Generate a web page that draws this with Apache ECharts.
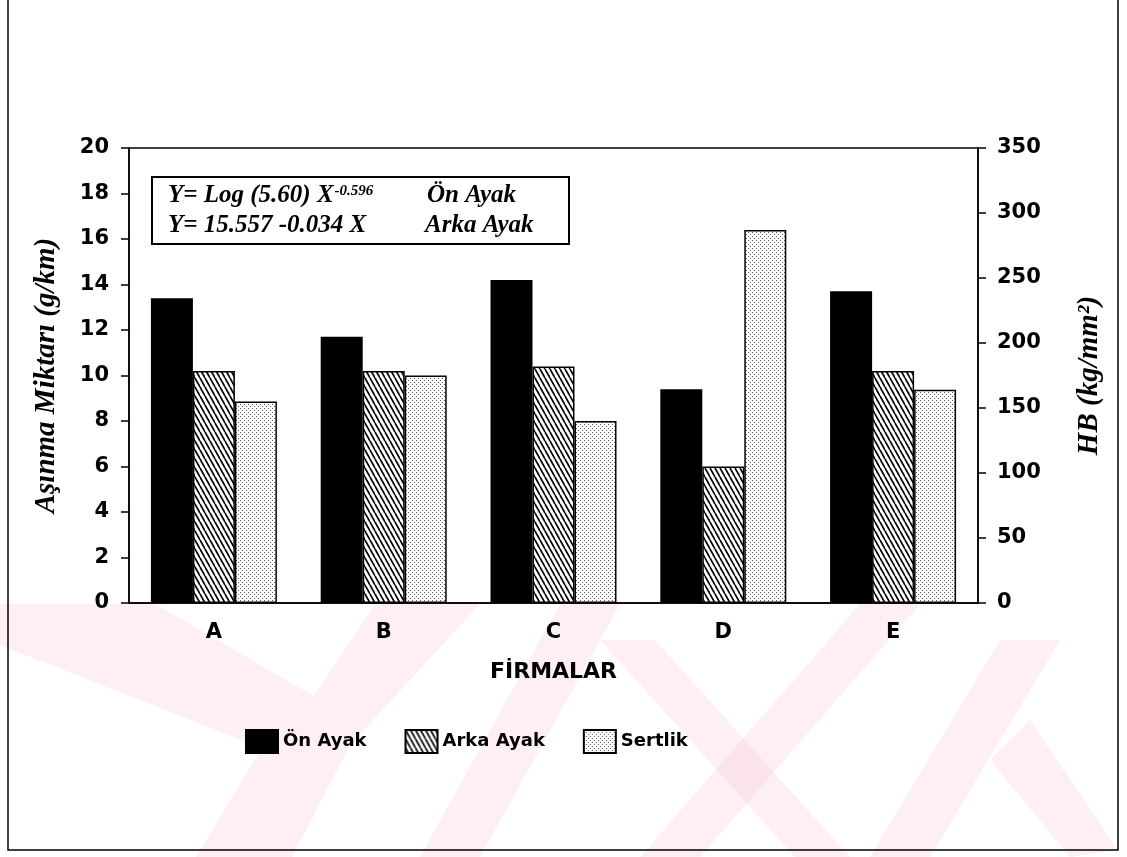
<!DOCTYPE html>
<html>
<head>
<meta charset="utf-8">
<script src="https://cdn.jsdelivr.net/npm/echarts@6/dist/echarts.min.js"></script>
<style>
html,body{margin:0;padding:0;background:#fff;}
#chart{width:1127px;height:857px;}
</style>
</head>
<body>
<div id="chart"></div>
<script>
// ---- data ----
const categories = ['A', 'B', 'C', 'D', 'E'];
const onAyak = [13.4, 11.7, 14.2, 9.4, 13.7];      // g/km (left axis)
const arkaAyak = [10.2, 10.2, 10.4, 6.0, 10.2];    // g/km (left axis)
const sertlik = [155, 175, 140, 287, 164];         // HB kg/mm2 (right axis)
const seriesNames = ['Ön Ayak', 'Arka Ayak', 'Sertlik'];
const leftAxisTitle = 'Aşınma Miktarı (g/km)';
const rightAxisTitle = 'HB (kg/mm²)';
const xAxisTitle = 'FİRMALAR';
const eqLine1 = 'Y= Log (5.60) X';
const eqLine1Sup = '-0.596';
const eqLine2 = 'Y= 15.557 -0.034 X';
const eqLabel1 = 'Ön Ayak';
const eqLabel2 = 'Arka Ayak';

// ---- patterns ----
function hatchPattern() {
  const w = 5, h = 9;
  const c = document.createElement('canvas');
  c.width = w; c.height = h;
  const g = c.getContext('2d');
  g.fillStyle = '#fff'; g.fillRect(0, 0, w, h);
  g.strokeStyle = '#000'; g.lineWidth = 1.6;
  for (let k = -1; k <= 1; k++) {
    g.beginPath(); g.moveTo(k * w, 0); g.lineTo(k * w + w, h); g.stroke();
  }
  return { image: c, repeat: 'repeat' };
}
function dotPattern() {
  const c = document.createElement('canvas');
  c.width = 4; c.height = 4;
  const g = c.getContext('2d');
  g.fillStyle = '#fff'; g.fillRect(0, 0, 4, 4);
  g.fillStyle = '#5a5a5a';
  g.fillRect(0, 0, 1, 1);
  g.fillRect(2, 2, 1, 1);
  return { image: c, repeat: 'repeat' };
}

const tickFont = { fontFamily: 'DejaVu Sans', fontWeight: 'bold', fontSize: 21, color: '#000' };
const titleFont = { fontFamily: 'Liberation Serif', fontWeight: 'bold', fontStyle: 'italic', fontSize: 29, color: '#000' };
const eqFont = 'italic bold 25px "Liberation Serif"';
const pink = 'rgba(250,205,215,0.32)';

const chart = echarts.init(document.getElementById('chart'), null, { renderer: 'canvas' });

const option = {
  backgroundColor: '#fff',
  animation: false,
  grid: { left: 129, right: 149, top: 148, bottom: 254, show: true, borderColor: '#000', borderWidth: 1.5, backgroundColor: 'transparent' },
  legend: {
    left: 245, top: 729, padding: 0,
    icon: 'rect',
    itemWidth: 32, itemHeight: 23, itemGap: 38,
    textStyle: { fontFamily: 'DejaVu Sans', fontWeight: 'bold', fontSize: 18, color: '#000' },
    data: seriesNames
  },
  xAxis: {
    type: 'category',
    data: categories,
    axisLine: { lineStyle: { color: '#000', width: 1.5 } },
    axisTick: { alignWithLabel: true, length: 10, lineStyle: { color: '#000', width: 1.5 } },
    axisLabel: Object.assign({ margin: 19 }, tickFont),
    name: xAxisTitle,
    nameLocation: 'middle',
    nameGap: 58,
    nameTextStyle: { fontFamily: 'DejaVu Sans', fontWeight: 'bold', fontSize: 22, color: '#000' }
  },
  yAxis: [
    {
      type: 'value', min: 0, max: 20, interval: 2,
      axisLine: { show: true, lineStyle: { color: '#000', width: 1.5 } },
      axisTick: { show: true, length: 8, lineStyle: { color: '#000', width: 1.5 } },
      splitLine: { show: false },
      axisLabel: Object.assign({ margin: 20 }, tickFont),
      name: leftAxisTitle, nameLocation: 'middle', nameRotate: 90, nameGap: 68,
      nameTextStyle: titleFont
    },
    {
      type: 'value', min: 0, max: 350, interval: 50, position: 'right',
      axisLine: { show: true, lineStyle: { color: '#000', width: 1.5 } },
      axisTick: { show: true, length: 8, lineStyle: { color: '#000', width: 1.5 } },
      splitLine: { show: false },
      axisLabel: Object.assign({ margin: 19 }, tickFont),
      name: rightAxisTitle, nameLocation: 'middle', nameRotate: 90, nameGap: 97,
      nameTextStyle: titleFont
    }
  ],
  series: [
    { name: seriesNames[0], type: 'bar', yAxisIndex: 0, data: onAyak, barWidth: 42, barGap: 0,
      itemStyle: { color: '#000', borderColor: '#000', borderWidth: 1.5 } },
    { name: seriesNames[1], type: 'bar', yAxisIndex: 0, data: arkaAyak, barWidth: 42, barGap: 0,
      itemStyle: { color: hatchPattern(), borderColor: '#000', borderWidth: 1.5 } },
    { name: seriesNames[2], type: 'bar', yAxisIndex: 1, data: sertlik, barWidth: 42, barGap: 0,
      itemStyle: { color: dotPattern(), borderColor: '#000', borderWidth: 1.5 } }
  ],
  graphic: [
    // faint watermark
    { type: 'polygon', z: -10, silent: true, shape: { points: [[0,604],[155,604],[314,696],[375,604],[480,604],[350,745],[292,857],[196,857],[262,748],[0,645]] }, style: { fill: pink } },
    { type: 'polygon', z: -10, silent: true, shape: { points: [[560,604],[620,604],[480,857],[420,857]] }, style: { fill: pink } },
    { type: 'polygon', z: -10, silent: true, shape: { points: [[600,640],[655,640],[850,857],[795,857]] }, style: { fill: pink } },
    { type: 'polygon', z: -10, silent: true, shape: { points: [[860,604],[920,604],[700,857],[640,857]] }, style: { fill: pink } },
    { type: 'polygon', z: -10, silent: true, shape: { points: [[1000,640],[1060,640],[930,857],[870,857]] }, style: { fill: pink } },
    { type: 'polygon', z: -10, silent: true, shape: { points: [[990,760],[1030,720],[1118,850],[1070,857]] }, style: { fill: pink } },
    // outer frame
    { type: 'polyline', z: 50, silent: true, shape: { points: [[8,0],[8,850],[1118,850],[1118,0]] }, style: { stroke: '#000', lineWidth: 1.5, fill: null } },
    // equation box
    { type: 'rect', z: 40, silent: true, shape: { x: 152, y: 177, width: 417, height: 67 }, style: { fill: '#fff', stroke: '#000', lineWidth: 2 } },
    { type: 'text', z: 41, silent: true, x: 168, y: 196,
      style: { text: '{m|' + eqLine1 + '}{s|' + eqLine1Sup + '}', fill: '#000', verticalAlign: 'middle',
        rich: { m: { font: eqFont, fill: '#000' }, s: { font: 'italic bold 15px "Liberation Serif"', fill: '#000', verticalAlign: 'top', padding: [0, 0, 10, 1] } } } },
    { type: 'text', z: 41, silent: true, x: 427, y: 196, style: { text: eqLabel1, font: eqFont, fill: '#000', verticalAlign: 'middle' } },
    { type: 'text', z: 41, silent: true, x: 168, y: 226, style: { text: eqLine2, font: eqFont, fill: '#000', verticalAlign: 'middle' } },
    { type: 'text', z: 41, silent: true, x: 425, y: 226, style: { text: eqLabel2, font: eqFont, fill: '#000', verticalAlign: 'middle' } }
  ]
};
chart.setOption(option);
</script>
</body>
</html>
